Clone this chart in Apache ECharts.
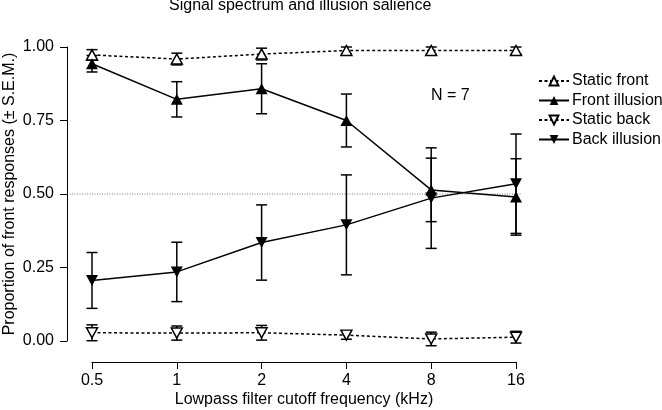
<!DOCTYPE html>
<html>
<head>
<meta charset="utf-8">
<script src="https://cdn.jsdelivr.net/npm/echarts@6/dist/echarts.min.js"></script>
<style>
html,body{margin:0;padding:0;background:#fff;}
#chart{width:662px;height:410px;}
</style>
</head>
<body>
<div id="chart"></div>
<script>
// ---- data ----
var categories = ['0.5', '1', '2', '4', '8', '16'];
var staticFront = [0.973, 0.959, 0.976, 0.988, 0.988, 0.988];
var staticFrontErr = [0.018, 0.020, 0.020, 0.012, 0.012, 0.012];
var frontIllusion = [0.943, 0.822, 0.858, 0.750, 0.514, 0.490];
var frontIllusionErr = [0.028, 0.060, 0.085, 0.090, 0.108, 0.130];
var staticBack = [0.028, 0.027, 0.028, 0.020, 0.007, 0.013];
var staticBackErr = [0.027, 0.024, 0.025, 0.014, 0.023, 0.020];
var backIllusion = [0.206, 0.235, 0.335, 0.395, 0.486, 0.535];
var backIllusionErr = [0.095, 0.101, 0.128, 0.170, 0.171, 0.169];
var yTicks = [0, 0.25, 0.5, 0.75, 1.0];
var refLine = 0.5;
var seriesNames = ['Static front', 'Front illusion', 'Static back', 'Back illusion'];

var FONT = 'Liberation Sans';
var FS = 16;
var chart = echarts.init(document.getElementById('chart'), null, {renderer: 'canvas'});

function pts(vals) { return vals.map(function (v, i) { return [i, v]; }); }
function errData(vals, errs) { return vals.map(function (v, i) { return [i, v, errs[i]]; }); }

function errSeries(vals, errs) {
  return {
    type: 'custom',
    xAxisIndex: 1, yAxisIndex: 1,
    clip: false, silent: true, z: 1,
    encode: {x: 0, y: 1},
    data: errData(vals, errs),
    renderItem: function (params, api) {
      var x = api.value(0), v = api.value(1), e = api.value(2);
      var t = api.coord([x, v + e]);
      var b = api.coord([x, v - e]);
      var hw = 5.5;
      var st = {stroke: '#000', lineWidth: 1.5};
      return {
        type: 'group',
        children: [
          {type: 'line', shape: {x1: t[0], y1: t[1], x2: b[0], y2: b[1]}, style: st},
          {type: 'line', shape: {x1: t[0] - hw, y1: t[1], x2: t[0] + hw, y2: t[1]}, style: st},
          {type: 'line', shape: {x1: b[0] - hw, y1: b[1], x2: b[0] + hw, y2: b[1]}, style: st}
        ]
      };
    }
  };
}

function lineSeries(name, vals, dashed, filled, down) {
  return {
    name: name,
    type: 'line',
    xAxisIndex: 1, yAxisIndex: 1,
    data: pts(vals),
    clip: false,
    z: 3,
    symbol: 'triangle',
    symbolSize: filled ? [12, 11] : [11, 10],
    symbolRotate: down ? 180 : 0,
    showAllSymbol: true,
    lineStyle: {color: '#000', width: 1.5, type: dashed ? [3, 2.5] : 'solid'},
    itemStyle: filled ? {color: '#000', borderWidth: 0}
                      : {color: '#fff', borderColor: '#000', borderWidth: 1.5},
    emphasis: {disabled: true},
    animation: false
  };
}

var option = {
  animation: false,
  backgroundColor: '#fff',
  textStyle: {fontFamily: FONT, color: '#000'},
  title: {
    text: 'Signal spectrum and illusion salience',
    left: 169, top: -2, padding: 0,
    textStyle: {fontFamily: FONT, fontSize: FS, fontWeight: 'normal', color: '#000'}
  },
  graphic: [{
    type: 'text', left: 431, top: 88,
    style: {text: 'N = 7', font: FS + 'px "Liberation Sans"', fill: '#000'}
  }],
  legend: {
    orient: 'vertical',
    left: 538, top: 73,
    itemWidth: 30, itemHeight: 11, itemGap: 3.5,
    padding: 0,
    data: seriesNames,
    textStyle: {fontFamily: FONT, fontSize: FS, color: '#000', padding: [0, 0, 0, -2]},
    inactiveColor: '#000',
    selectedMode: false
  },
  grid: [
    {left: 67, top: 47, width: 455, height: 294, containLabel: false, outerBoundsMode: 'none'},
    {left: 92, top: 47, width: 424, height: 315, containLabel: false, outerBoundsMode: 'none'}
  ],
  xAxis: [
    {gridIndex: 0, type: 'value', min: 0, max: 1, show: false},
    {
      gridIndex: 1, type: 'value', min: 0, max: categories.length - 1, interval: 1,
      axisLine: {show: true, onZero: false, lineStyle: {color: '#000', width: 1}},
      axisTick: {show: true, length: 7, lineStyle: {color: '#000', width: 1}},
      splitLine: {show: false},
      axisLabel: {
        fontFamily: FONT, fontSize: FS, color: '#000', margin: 11,
        formatter: function (v) { return categories[v] !== undefined ? categories[v] : ''; }
      },
      name: 'Lowpass filter cutoff frequency (kHz)',
      nameLocation: 'middle', nameGap: 30, nameMoveOverlap: false,
      nameTextStyle: {fontFamily: FONT, fontSize: FS, color: '#000'}
    }
  ],
  yAxis: [
    {
      gridIndex: 0, type: 'value', min: yTicks[0], max: yTicks[yTicks.length - 1], interval: 0.25,
      axisLine: {show: true, lineStyle: {color: '#000', width: 1}},
      axisTick: {show: true, length: 7, lineStyle: {color: '#000', width: 1}},
      splitLine: {show: false},
      axisLabel: {
        fontFamily: FONT, fontSize: FS, color: '#000', margin: 13,
        formatter: function (v) { return v.toFixed(2); }
      },
      name: 'Proportion of front responses (\u00B1 S.E.M.)',
      nameLocation: 'middle', nameGap: 49, nameMoveOverlap: false,
      nameTextStyle: {fontFamily: FONT, fontSize: FS, color: '#000'}
    },
    {gridIndex: 1, type: 'value', min: -0.0714, max: 1, show: false}
  ],
  series: [
    {
      type: 'line', xAxisIndex: 0, yAxisIndex: 0, silent: true, z: 0,
      data: [[0, refLine], [1, refLine]], symbol: 'none',
      lineStyle: {color: '#555', width: 0.8, type: [1, 1.5]}
    },
    errSeries(staticFront, staticFrontErr),
    errSeries(frontIllusion, frontIllusionErr),
    errSeries(staticBack, staticBackErr),
    errSeries(backIllusion, backIllusionErr),
    lineSeries(seriesNames[0], staticFront, true, false, false),
    lineSeries(seriesNames[1], frontIllusion, false, true, false),
    lineSeries(seriesNames[2], staticBack, true, false, true),
    lineSeries(seriesNames[3], backIllusion, false, true, true)
  ]
};
chart.setOption(option);
</script>
</body>
</html>
